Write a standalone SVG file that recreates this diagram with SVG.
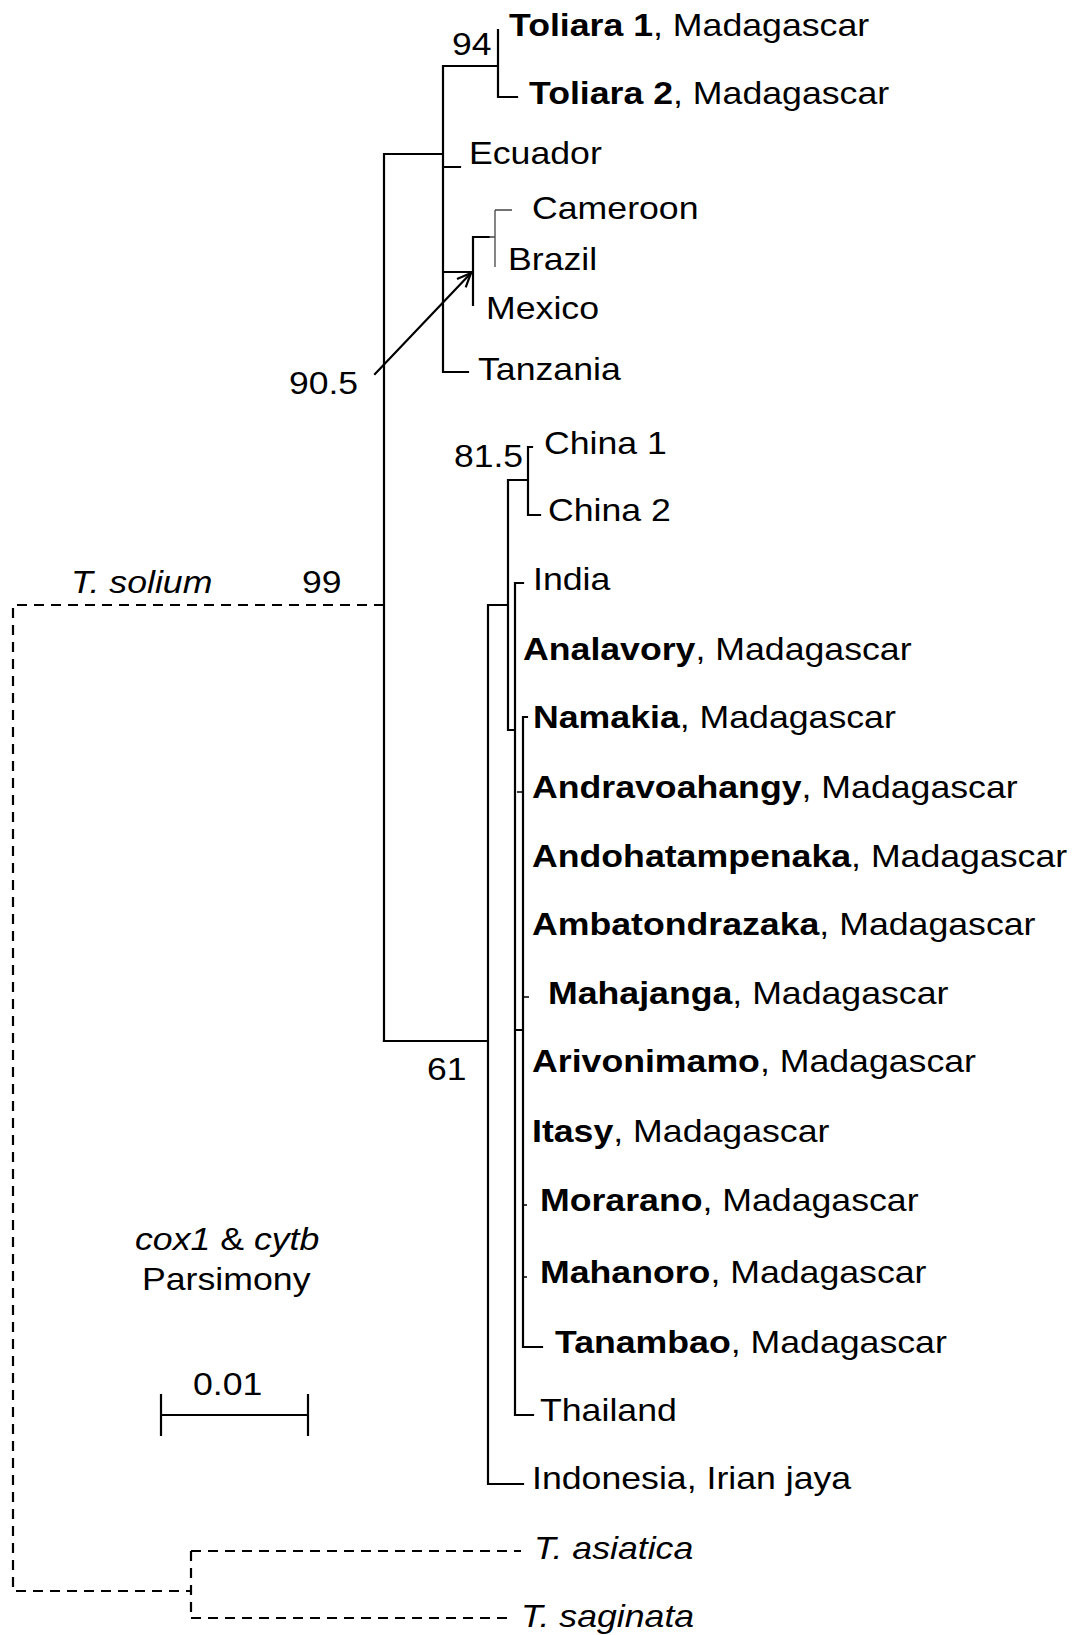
<svg xmlns="http://www.w3.org/2000/svg" width="1074" height="1635" viewBox="0 0 1074 1635">
<style>
text{font-family:"Liberation Sans",Arial,sans-serif;font-size:32px;fill:#000}
.b{font-weight:bold}
.i{font-style:italic}
.br{fill:none;stroke:#000;stroke-width:2.2;stroke-linecap:square}
.th{fill:none;stroke:#444;stroke-width:1.3}
.tk{fill:none;stroke:#000;stroke-width:1.6}
.ds{fill:none;stroke:#000;stroke-width:2.2;stroke-dasharray:10 7}
</style>
<defs>
<marker id="ah" markerUnits="userSpaceOnUse" viewBox="0 0 16 16" markerWidth="16" markerHeight="16" refX="15" refY="8" orient="auto">
<path d="M1,2 L15,8 L1,14" fill="none" stroke="#000" stroke-width="2.2"/>
</marker>
</defs>
<rect width="1074" height="1635" fill="#fff"/>
<g id="connectors">
<path class="br" d="M384,154 V1041 M384,154 H443 M443,66 V372 M443,66 H498 M498,30 V97 H517 M443,167 H460 M443,272 H473 M473,237 V305 M473,237 H489 M443,372 H468"/>
<path class="th" d="M489,237 H495 M495,210 V267 M495,210 H512"/>
<path class="br" d="M384,1041 H488 M488,605 V1484 H523 M488,605 H508 M508,480 V730 H515 M508,480 H528 M528,447 V515 H540 M528,447 H532 M515,583 V1415 H533 M515,583 H523 M523,717 V1347 H542 M515,1030 H523 M523,717 H527"/>
<path class="tk" d="M517,792 H523 M523,997 H529 M523,1205 H527 M523,1277 H527"/>
<path class="ds" d="M384,605 H13 V1591 H191 M191,1551 V1618 M191,1551 H521 M191,1618 H511"/>
<path class="br" d="M375,374 L471,273" marker-end="url(#ah)"/>
<path class="br" d="M161,1415 H308 M161,1395 V1435 M308,1395 V1435"/>
</g>
<g id="support">
<text id="s94" transform="translate(452,55) scale(1.11,1)">94</text>
<text id="s905" transform="translate(289,394) scale(1.11,1)">90.5</text>
<text id="s815" transform="translate(454,467) scale(1.11,1)">81.5</text>
<text id="s99" transform="translate(302,593) scale(1.11,1)">99</text>
<text id="s61" transform="translate(427,1080) scale(1.11,1)">61</text>
</g>
<g id="n-toliara1"><text transform="translate(509,36) scale(1.115,1)"><tspan class="b">Toliara 1</tspan>, Madagascar</text></g>
<g id="n-toliara2"><text transform="translate(529,104) scale(1.115,1)"><tspan class="b">Toliara 2</tspan>, Madagascar</text></g>
<g id="n-ecuador"><text transform="translate(469,164) scale(1.115,1)">Ecuador</text></g>
<g id="n-cameroon"><text transform="translate(532,219) scale(1.115,1)">Cameroon</text></g>
<g id="n-brazil"><text transform="translate(508,270) scale(1.115,1)">Brazil</text></g>
<g id="n-mexico"><text transform="translate(486,319) scale(1.115,1)">Mexico</text></g>
<g id="n-tanzania"><text transform="translate(478,380) scale(1.115,1)">Tanzania</text></g>
<g id="n-china1"><text transform="translate(544,454) scale(1.115,1)">China 1</text></g>
<g id="n-china2"><text transform="translate(548,521) scale(1.115,1)">China 2</text></g>
<g id="n-india"><text transform="translate(533,590) scale(1.115,1)">India</text></g>
<g id="n-analavory"><text transform="translate(523,660) scale(1.115,1)"><tspan class="b">Analavory</tspan>, Madagascar</text></g>
<g id="n-namakia"><text transform="translate(533,728) scale(1.115,1)"><tspan class="b">Namakia</tspan>, Madagascar</text></g>
<g id="n-andravoahangy"><text transform="translate(532,798) scale(1.115,1)"><tspan class="b">Andravoahangy</tspan>, Madagascar</text></g>
<g id="n-andohatampenaka"><text transform="translate(532,867) scale(1.115,1)"><tspan class="b">Andohatampenaka</tspan>, Madagascar</text></g>
<g id="n-ambatondrazaka"><text transform="translate(532,935) scale(1.115,1)"><tspan class="b">Ambatondrazaka</tspan>, Madagascar</text></g>
<g id="n-mahajanga"><text transform="translate(548,1004) scale(1.115,1)"><tspan class="b">Mahajanga</tspan>, Madagascar</text></g>
<g id="n-arivonimamo"><text transform="translate(532,1072) scale(1.115,1)"><tspan class="b">Arivonimamo</tspan>, Madagascar</text></g>
<g id="n-itasy"><text transform="translate(532,1142) scale(1.115,1)"><tspan class="b">Itasy</tspan>, Madagascar</text></g>
<g id="n-morarano"><text transform="translate(540,1211) scale(1.115,1)"><tspan class="b">Morarano</tspan>, Madagascar</text></g>
<g id="n-mahanoro"><text transform="translate(540,1283) scale(1.115,1)"><tspan class="b">Mahanoro</tspan>, Madagascar</text></g>
<g id="n-tanambao"><text transform="translate(555,1353) scale(1.115,1)"><tspan class="b">Tanambao</tspan>, Madagascar</text></g>
<g id="n-thailand"><text transform="translate(540,1421) scale(1.115,1)">Thailand</text></g>
<g id="n-indonesia"><text transform="translate(532,1489) scale(1.115,1)">Indonesia, Irian jaya</text></g>
<g id="n-tasiatica"><text class="i" transform="translate(534,1559) scale(1.115,1)">T. asiatica</text></g>
<g id="n-tsaginata"><text class="i" transform="translate(521,1627) scale(1.115,1)">T. saginata</text></g>
<g id="n-tsolium"><text class="i" transform="translate(71,593) scale(1.115,1)">T. solium</text></g>
<g id="legend">
<text transform="translate(135,1250) scale(1.115,1)"><tspan class="i">cox1</tspan> &amp; <tspan class="i">cytb</tspan></text>
<text transform="translate(142,1290) scale(1.115,1)">Parsimony</text>
<text transform="translate(193,1395) scale(1.115,1)">0.01</text>
</g>
</svg>
